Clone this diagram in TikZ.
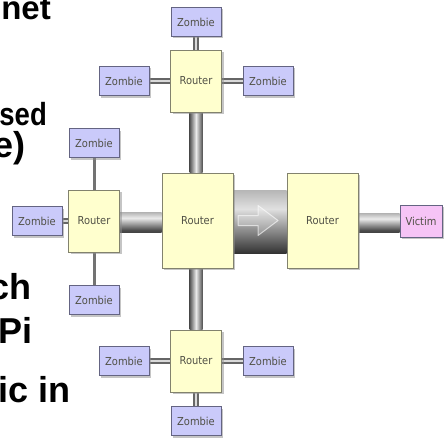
\documentclass[tikz,border=0pt]{standalone}
\usepackage{fontspec}
\newfontfamily\slidefont{Liberation Sans}
\newfontfamily\boxfont{DejaVu Sans Condensed}
\usetikzlibrary{shadows,calc,backgrounds}
\definecolor{zombiefill}{RGB}{202,202,250}
\definecolor{zombieedge}{RGB}{100,100,130}
\definecolor{routerfill}{RGB}{255,255,206}
\definecolor{routeredge}{RGB}{130,130,110}
\definecolor{victimfill}{RGB}{246,196,246}
\definecolor{boxtext}{RGB}{80,80,70}
\pgfdeclareverticalshading{bigpipe}{100bp}{color(0bp)=(black!95); color(25bp)=(black!80); color(60bp)=(black!12); color(85bp)=(black!40); color(100bp)=(black!60)}
\pgfdeclareverticalshading{hpipe}{100bp}{color(0bp)=(black!90); color(30bp)=(black!70); color(60bp)=(black!8); color(85bp)=(black!45); color(100bp)=(black!55)}
\pgfdeclarehorizontalshading{vpipe}{100bp}{color(0bp)=(black!35); color(20bp)=(black!80); color(50bp)=(black!8); color(80bp)=(black!80); color(100bp)=(black!45)}
\begin{document}
\begin{tikzpicture}[x=1pt,y=-1pt,
  box/.style={draw, line width=0.7pt, inner sep=0pt, font=\boxfont\fontsize{11}{13}\selectfont, text=boxtext,
    drop shadow={shadow xshift=2pt, shadow yshift=-2pt, fill=black!45, opacity=0.5}},
  zombie/.style={box, draw=zombieedge, fill=zombiefill, minimum width=50pt, minimum height=29pt},
  router/.style={box, draw=routeredge, fill=routerfill, minimum width=51pt, minimum height=62pt},
  bigrouter/.style={box, draw=routeredge, fill=routerfill, minimum width=71pt, minimum height=95pt},
  victim/.style={box, draw=zombieedge, fill=victimfill, minimum width=42pt, minimum height=32pt},
  thinpipe/.style={draw=black!60, line width=2pt, double=black!15, double distance=1.5pt},
  wire/.style={draw=black!55, line width=3pt},
  slide/.style={font=\slidefont\bfseries\fontsize{36}{40}\selectfont, anchor=base east, inner sep=0pt, text=black}]
\useasboundingbox (0,0) rectangle (446,441);
\clip (0,0) rectangle (446,441);
% nodes
\node[zombie] (zt) at (196,22) {Zombie};
\node[router] (rt) at (196,81) {Router};
\node[zombie] (ztl) at (124,81) {Zombie};
\node[zombie] (ztr) at (268,81) {Zombie};
\node[bigrouter] (rc) at (197.5,220.5) {Router};
\node[bigrouter] (rr) at (322.5,220.5) {Router};
\node[router] (rl) at (94,221) {Router};
\node[zombie] (zlt) at (94,143) {Zombie};
\node[zombie] (zl) at (37,221) {Zombie};
\node[zombie] (zlb) at (94,300) {Zombie};
\node[router] (rb) at (196,361) {Router};
\node[zombie] (zbl) at (124,361) {Zombie};
\node[zombie] (zbr) at (268,361) {Zombie};
\node[zombie] (zb) at (196,421) {Zombie};
\node[victim] (vic) at (421,221) {Victim};
\coordinate (m) at ($(rc.east)!0.5!(rr.west)$);
% connectors behind boxes
\begin{scope}[on background layer]
\fill[white] (0,0) rectangle (446,441);
\draw[thinpipe] (zt) -- (rt);
\draw[thinpipe] (ztl) -- (rt);
\draw[thinpipe] (rt) -- (ztr);
\draw[thinpipe] (zl) -- (rl);
\draw[wire] (zlt) -- (rl);
\draw[wire] (rl) -- (zlb);
\draw[thinpipe] (rb) -- (zbl);
\draw[thinpipe] (rb) -- (zbr);
\draw[thinpipe] (rb) -- (zb);
\shade[shading=vpipe] ($(rt.south)+(-6.5,0)$) rectangle ($(rt.south |- rc.north)+(6.5,0)$);
\shade[shading=vpipe] ($(rb.north)+(-6.5,0)$) rectangle ($(rb.north |- rc.south)+(6.5,0)$);
\shade[shading=hpipe] ($(rl.east)+(0,-9)$) rectangle ($(rc.west |- rl.east)+(0,11)$);
\shade[shading=hpipe] ($(rr.east)+(0,-7.5)$) rectangle ($(vic.west |- rr.east)+(0,11.5)$);
\shade[shading=bigpipe] ($(rc.east)+(0,-30.5)$) rectangle ($(rr.west)+(0,32.5)$);
\draw[shift={(m)}, draw=white, draw opacity=0.6, fill=white, fill opacity=0.2, line width=1pt, line join=round]
  (-22,-5) -- (-2,-5) -- (-2,-15) -- (18,0) -- (-2,15) -- (-2,5) -- (-22,5) -- cycle;
\end{scope}
% slide text fragments
\node[slide, font=\slidefont\bfseries\fontsize{33}{36}\selectfont] (t1) at (51,20) {net};
\node[slide, font=\slidefont\bfseries\fontsize{32}{36}\selectfont, xscale=0.86] (t2) at (47,125) {sed};
\node[slide] (t3) at (26,157) {e)};
\node[slide] (t4) at (32,299) {ch};
\node[slide] (t5) at (33,343) {Pi};
\node[slide] (t6) at (71,402) {ic in};
\end{tikzpicture}
\end{document}
